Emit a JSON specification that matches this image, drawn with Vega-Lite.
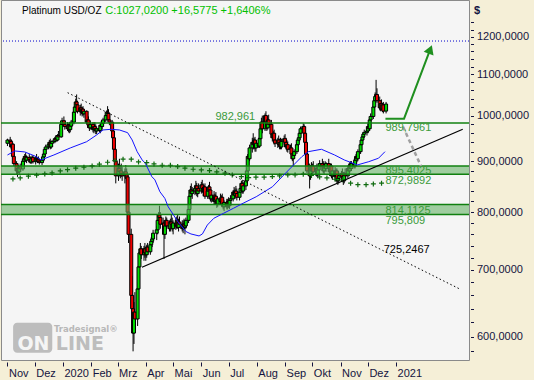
{
"$schema": "https://vega.github.io/schema/vega-lite/v6.json",
"width": 468, "height": 360,
"autosize": {"type": "none"},
"padding": {"left": 1, "top": 0, "right": 65, "bottom": 20},
"background": "#f5efd7",
"config": {
 "view": {"fill": "#f5f5f5", "stroke": "#8a8a8a", "strokeWidth": 1},
 "font": "Liberation Sans",
 "axis": {"labelFont": "Liberation Sans", "labelFontSize": 11, "labelColor": "#141440", "tickColor": "#141440", "domain": false, "grid": false}
},
"datasets": {
"candles": [
{"d":"2019-11-01","o":938,"h":948,"l":932,"c":945},
{"d":"2019-11-04","o":945,"h":952,"l":938,"c":942},
{"d":"2019-11-05","o":942,"h":946,"l":925,"c":930},
{"d":"2019-11-06","o":930,"h":940,"l":925,"c":936},
{"d":"2019-11-07","o":936,"h":938,"l":905,"c":910},
{"d":"2019-11-08","o":910,"h":915,"l":890,"c":895},
{"d":"2019-11-11","o":895,"h":900,"l":872,"c":880},
{"d":"2019-11-12","o":880,"h":890,"l":868,"c":885},
{"d":"2019-11-13","o":885,"h":892,"l":875,"c":878},
{"d":"2019-11-14","o":878,"h":890,"l":872,"c":888},
{"d":"2019-11-15","o":888,"h":895,"l":880,"c":884},
{"d":"2019-11-18","o":884,"h":905,"l":880,"c":900},
{"d":"2019-11-19","o":900,"h":910,"l":895,"c":905},
{"d":"2019-11-20","o":905,"h":915,"l":900,"c":910},
{"d":"2019-11-21","o":910,"h":918,"l":898,"c":902},
{"d":"2019-11-22","o":902,"h":912,"l":896,"c":908},
{"d":"2019-11-25","o":908,"h":915,"l":898,"c":903},
{"d":"2019-11-26","o":903,"h":910,"l":895,"c":898},
{"d":"2019-11-27","o":898,"h":908,"l":894,"c":905},
{"d":"2019-11-28","o":905,"h":912,"l":900,"c":908},
{"d":"2019-11-29","o":908,"h":912,"l":895,"c":899},
{"d":"2019-12-02","o":899,"h":910,"l":893,"c":906},
{"d":"2019-12-03","o":906,"h":915,"l":900,"c":902},
{"d":"2019-12-04","o":902,"h":908,"l":896,"c":904},
{"d":"2019-12-05","o":904,"h":910,"l":898,"c":900},
{"d":"2019-12-06","o":900,"h":905,"l":893,"c":897},
{"d":"2019-12-09","o":897,"h":905,"l":892,"c":902},
{"d":"2019-12-10","o":902,"h":912,"l":898,"c":909},
{"d":"2019-12-11","o":909,"h":918,"l":905,"c":915},
{"d":"2019-12-12","o":915,"h":928,"l":910,"c":925},
{"d":"2019-12-13","o":925,"h":935,"l":918,"c":930},
{"d":"2019-12-16","o":930,"h":940,"l":925,"c":935},
{"d":"2019-12-17","o":935,"h":945,"l":930,"c":940},
{"d":"2019-12-18","o":940,"h":948,"l":925,"c":930},
{"d":"2019-12-19","o":930,"h":942,"l":926,"c":938},
{"d":"2019-12-20","o":938,"h":945,"l":932,"c":942},
{"d":"2019-12-23","o":942,"h":952,"l":938,"c":948},
{"d":"2019-12-24","o":948,"h":955,"l":940,"c":945},
{"d":"2019-12-26","o":945,"h":958,"l":942,"c":955},
{"d":"2019-12-27","o":955,"h":965,"l":948,"c":952},
{"d":"2019-12-30","o":952,"h":985,"l":950,"c":980},
{"d":"2019-12-31","o":980,"h":995,"l":975,"c":988},
{"d":"2020-01-02","o":988,"h":998,"l":975,"c":980},
{"d":"2020-01-03","o":980,"h":990,"l":968,"c":975},
{"d":"2020-01-06","o":975,"h":985,"l":965,"c":970},
{"d":"2020-01-07","o":970,"h":982,"l":962,"c":978},
{"d":"2020-01-08","o":978,"h":985,"l":960,"c":968},
{"d":"2020-01-09","o":968,"h":980,"l":962,"c":976},
{"d":"2020-01-10","o":976,"h":990,"l":970,"c":985},
{"d":"2020-01-13","o":985,"h":1012,"l":980,"c":1008},
{"d":"2020-01-14","o":1008,"h":1025,"l":1002,"c":1020},
{"d":"2020-01-15","o":1020,"h":1040,"l":1015,"c":1032},
{"d":"2020-01-16","o":1032,"h":1050,"l":1018,"c":1025},
{"d":"2020-01-17","o":1025,"h":1035,"l":1005,"c":1010},
{"d":"2020-01-20","o":1010,"h":1025,"l":1000,"c":1018},
{"d":"2020-01-21","o":1018,"h":1028,"l":1005,"c":1008},
{"d":"2020-01-22","o":1008,"h":1020,"l":998,"c":1015},
{"d":"2020-01-23","o":1015,"h":1022,"l":1000,"c":1004},
{"d":"2020-01-24","o":1004,"h":1015,"l":995,"c":1010},
{"d":"2020-01-27","o":1010,"h":1012,"l":980,"c":985},
{"d":"2020-01-28","o":985,"h":995,"l":972,"c":990},
{"d":"2020-01-29","o":990,"h":998,"l":975,"c":978},
{"d":"2020-01-30","o":978,"h":985,"l":965,"c":972},
{"d":"2020-01-31","o":972,"h":988,"l":968,"c":980},
{"d":"2020-02-03","o":980,"h":985,"l":962,"c":968},
{"d":"2020-02-04","o":968,"h":980,"l":960,"c":975},
{"d":"2020-02-05","o":975,"h":985,"l":965,"c":970},
{"d":"2020-02-06","o":970,"h":980,"l":958,"c":965},
{"d":"2020-02-07","o":965,"h":975,"l":958,"c":970},
{"d":"2020-02-10","o":970,"h":978,"l":962,"c":966},
{"d":"2020-02-11","o":966,"h":982,"l":960,"c":978},
{"d":"2020-02-12","o":978,"h":988,"l":970,"c":975},
{"d":"2020-02-13","o":975,"h":985,"l":968,"c":982},
{"d":"2020-02-14","o":982,"h":995,"l":975,"c":990},
{"d":"2020-02-17","o":990,"h":1005,"l":985,"c":1000},
{"d":"2020-02-18","o":1000,"h":1012,"l":992,"c":1008},
{"d":"2020-02-19","o":1008,"h":1022,"l":1000,"c":1005},
{"d":"2020-02-20","o":1005,"h":1015,"l":985,"c":990},
{"d":"2020-02-21","o":990,"h":1002,"l":978,"c":985},
{"d":"2020-02-24","o":985,"h":990,"l":960,"c":965},
{"d":"2020-02-25","o":965,"h":975,"l":945,"c":950},
{"d":"2020-02-26","o":950,"h":958,"l":920,"c":925},
{"d":"2020-02-27","o":925,"h":935,"l":895,"c":900},
{"d":"2020-02-28","o":900,"h":905,"l":855,"c":870},
{"d":"2020-03-02","o":870,"h":895,"l":860,"c":885},
{"d":"2020-03-03","o":885,"h":905,"l":870,"c":878},
{"d":"2020-03-04","o":878,"h":892,"l":865,"c":880},
{"d":"2020-03-05","o":880,"h":895,"l":868,"c":875},
{"d":"2020-03-06","o":875,"h":888,"l":860,"c":870},
{"d":"2020-03-09","o":870,"h":885,"l":855,"c":878},
{"d":"2020-03-10","o":878,"h":892,"l":865,"c":872},
{"d":"2020-03-11","o":872,"h":885,"l":860,"c":865},
{"d":"2020-03-12","o":868,"h":872,"l":795,"c":800},
{"d":"2020-03-13","o":800,"h":820,"l":745,"c":760},
{"d":"2020-03-16","o":760,"h":770,"l":640,"c":660},
{"d":"2020-03-17","o":660,"h":690,"l":620,"c":640},
{"d":"2020-03-18","o":640,"h":660,"l":580,"c":605},
{"d":"2020-03-19","o":605,"h":650,"l":590,"c":635},
{"d":"2020-03-20","o":635,"h":665,"l":610,"c":625},
{"d":"2020-03-23","o":625,"h":680,"l":615,"c":670},
{"d":"2020-03-24","o":670,"h":715,"l":660,"c":705},
{"d":"2020-03-25","o":705,"h":735,"l":695,"c":728},
{"d":"2020-03-26","o":728,"h":745,"l":715,"c":735},
{"d":"2020-03-27","o":735,"h":740,"l":718,"c":725},
{"d":"2020-03-30","o":725,"h":740,"l":715,"c":735},
{"d":"2020-03-31","o":735,"h":745,"l":720,"c":728},
{"d":"2020-04-01","o":728,"h":738,"l":715,"c":725},
{"d":"2020-04-02","o":725,"h":742,"l":720,"c":738},
{"d":"2020-04-03","o":738,"h":745,"l":725,"c":730},
{"d":"2020-04-06","o":730,"h":748,"l":725,"c":742},
{"d":"2020-04-07","o":742,"h":755,"l":735,"c":748},
{"d":"2020-04-08","o":748,"h":760,"l":738,"c":752},
{"d":"2020-04-09","o":752,"h":768,"l":745,"c":762},
{"d":"2020-04-13","o":762,"h":775,"l":750,"c":768},
{"d":"2020-04-14","o":768,"h":790,"l":760,"c":785},
{"d":"2020-04-15","o":785,"h":800,"l":775,"c":795},
{"d":"2020-04-16","o":795,"h":812,"l":785,"c":790},
{"d":"2020-04-17","o":790,"h":800,"l":770,"c":778},
{"d":"2020-04-20","o":778,"h":790,"l":765,"c":780},
{"d":"2020-04-21","o":780,"h":785,"l":718,"c":760},
{"d":"2020-04-22","o":760,"h":780,"l":752,"c":775},
{"d":"2020-04-23","o":775,"h":792,"l":768,"c":785},
{"d":"2020-04-24","o":785,"h":790,"l":770,"c":775},
{"d":"2020-04-27","o":775,"h":785,"l":765,"c":770},
{"d":"2020-04-28","o":770,"h":788,"l":765,"c":782},
{"d":"2020-04-29","o":782,"h":795,"l":775,"c":778},
{"d":"2020-04-30","o":778,"h":790,"l":765,"c":770},
{"d":"2020-05-01","o":770,"h":785,"l":760,"c":780},
{"d":"2020-05-04","o":780,"h":790,"l":768,"c":775},
{"d":"2020-05-05","o":775,"h":792,"l":770,"c":785},
{"d":"2020-05-06","o":785,"h":795,"l":770,"c":772},
{"d":"2020-05-07","o":772,"h":788,"l":765,"c":782},
{"d":"2020-05-08","o":782,"h":792,"l":772,"c":778},
{"d":"2020-05-11","o":778,"h":785,"l":765,"c":770},
{"d":"2020-05-12","o":770,"h":785,"l":762,"c":778},
{"d":"2020-05-13","o":778,"h":788,"l":768,"c":772},
{"d":"2020-05-14","o":772,"h":782,"l":760,"c":775},
{"d":"2020-05-15","o":775,"h":790,"l":770,"c":785},
{"d":"2020-05-18","o":785,"h":812,"l":780,"c":805},
{"d":"2020-05-19","o":805,"h":835,"l":800,"c":830},
{"d":"2020-05-20","o":830,"h":850,"l":822,"c":842},
{"d":"2020-05-21","o":842,"h":855,"l":830,"c":835},
{"d":"2020-05-22","o":835,"h":848,"l":825,"c":840},
{"d":"2020-05-25","o":840,"h":852,"l":832,"c":845},
{"d":"2020-05-26","o":845,"h":860,"l":838,"c":850},
{"d":"2020-05-27","o":850,"h":856,"l":830,"c":835},
{"d":"2020-05-28","o":835,"h":850,"l":828,"c":845},
{"d":"2020-05-29","o":845,"h":855,"l":835,"c":840},
{"d":"2020-06-01","o":840,"h":858,"l":835,"c":852},
{"d":"2020-06-02","o":852,"h":862,"l":840,"c":845},
{"d":"2020-06-03","o":845,"h":855,"l":830,"c":838},
{"d":"2020-06-04","o":838,"h":852,"l":832,"c":848},
{"d":"2020-06-05","o":848,"h":855,"l":825,"c":830},
{"d":"2020-06-08","o":830,"h":845,"l":825,"c":840},
{"d":"2020-06-09","o":840,"h":852,"l":835,"c":848},
{"d":"2020-06-10","o":848,"h":858,"l":838,"c":842},
{"d":"2020-06-11","o":842,"h":848,"l":820,"c":825},
{"d":"2020-06-12","o":825,"h":838,"l":818,"c":832},
{"d":"2020-06-15","o":832,"h":840,"l":815,"c":820},
{"d":"2020-06-16","o":820,"h":835,"l":815,"c":830},
{"d":"2020-06-17","o":830,"h":838,"l":818,"c":822},
{"d":"2020-06-18","o":822,"h":830,"l":808,"c":815},
{"d":"2020-06-19","o":815,"h":828,"l":810,"c":825},
{"d":"2020-06-22","o":825,"h":835,"l":815,"c":820},
{"d":"2020-06-23","o":820,"h":832,"l":812,"c":828},
{"d":"2020-06-24","o":828,"h":835,"l":810,"c":815},
{"d":"2020-06-25","o":815,"h":825,"l":805,"c":810},
{"d":"2020-06-26","o":810,"h":822,"l":802,"c":818},
{"d":"2020-06-29","o":818,"h":825,"l":805,"c":810},
{"d":"2020-06-30","o":810,"h":825,"l":805,"c":820},
{"d":"2020-07-01","o":820,"h":828,"l":808,"c":812},
{"d":"2020-07-02","o":812,"h":825,"l":806,"c":822},
{"d":"2020-07-03","o":822,"h":832,"l":815,"c":825},
{"d":"2020-07-06","o":825,"h":842,"l":820,"c":838},
{"d":"2020-07-07","o":838,"h":848,"l":828,"c":832},
{"d":"2020-07-08","o":832,"h":845,"l":825,"c":840},
{"d":"2020-07-09","o":840,"h":850,"l":830,"c":835},
{"d":"2020-07-10","o":835,"h":845,"l":822,"c":828},
{"d":"2020-07-13","o":828,"h":842,"l":822,"c":838},
{"d":"2020-07-14","o":838,"h":852,"l":830,"c":845},
{"d":"2020-07-15","o":845,"h":860,"l":838,"c":855},
{"d":"2020-07-16","o":855,"h":862,"l":835,"c":840},
{"d":"2020-07-17","o":840,"h":858,"l":835,"c":850},
{"d":"2020-07-20","o":850,"h":865,"l":842,"c":860},
{"d":"2020-07-21","o":860,"h":885,"l":855,"c":880},
{"d":"2020-07-22","o":880,"h":915,"l":872,"c":910},
{"d":"2020-07-23","o":910,"h":925,"l":895,"c":905},
{"d":"2020-07-24","o":905,"h":935,"l":900,"c":928},
{"d":"2020-07-27","o":928,"h":950,"l":918,"c":940},
{"d":"2020-07-28","o":940,"h":960,"l":925,"c":935},
{"d":"2020-07-29","o":935,"h":950,"l":925,"c":945},
{"d":"2020-07-30","o":945,"h":952,"l":920,"c":928},
{"d":"2020-07-31","o":928,"h":945,"l":920,"c":938},
{"d":"2020-08-03","o":938,"h":950,"l":928,"c":932},
{"d":"2020-08-04","o":932,"h":955,"l":928,"c":948},
{"d":"2020-08-05","o":948,"h":975,"l":940,"c":970},
{"d":"2020-08-06","o":970,"h":995,"l":962,"c":985},
{"d":"2020-08-07","o":985,"h":1000,"l":960,"c":970},
{"d":"2020-08-10","o":970,"h":1005,"l":965,"c":1000},
{"d":"2020-08-11","o":1000,"h":1010,"l":975,"c":985},
{"d":"2020-08-12","o":985,"h":998,"l":965,"c":972},
{"d":"2020-08-13","o":972,"h":995,"l":968,"c":990},
{"d":"2020-08-14","o":990,"h":1002,"l":975,"c":980},
{"d":"2020-08-17","o":980,"h":990,"l":950,"c":958},
{"d":"2020-08-18","o":958,"h":968,"l":942,"c":950},
{"d":"2020-08-19","o":950,"h":965,"l":940,"c":960},
{"d":"2020-08-20","o":960,"h":968,"l":935,"c":945},
{"d":"2020-08-21","o":945,"h":955,"l":930,"c":938},
{"d":"2020-08-24","o":938,"h":950,"l":928,"c":945},
{"d":"2020-08-25","o":945,"h":955,"l":930,"c":935},
{"d":"2020-08-26","o":935,"h":948,"l":925,"c":940},
{"d":"2020-08-27","o":940,"h":950,"l":925,"c":930},
{"d":"2020-08-28","o":930,"h":948,"l":925,"c":942},
{"d":"2020-08-31","o":942,"h":955,"l":935,"c":948},
{"d":"2020-09-01","o":948,"h":958,"l":935,"c":940},
{"d":"2020-09-02","o":940,"h":950,"l":925,"c":930},
{"d":"2020-09-03","o":930,"h":945,"l":920,"c":935},
{"d":"2020-09-04","o":935,"h":942,"l":918,"c":925},
{"d":"2020-09-07","o":925,"h":935,"l":915,"c":928},
{"d":"2020-09-08","o":928,"h":938,"l":910,"c":915},
{"d":"2020-09-09","o":915,"h":925,"l":900,"c":905},
{"d":"2020-09-10","o":905,"h":918,"l":890,"c":912},
{"d":"2020-09-11","o":912,"h":925,"l":905,"c":920},
{"d":"2020-09-14","o":920,"h":940,"l":915,"c":935},
{"d":"2020-09-15","o":935,"h":950,"l":930,"c":945},
{"d":"2020-09-16","o":945,"h":958,"l":938,"c":950},
{"d":"2020-09-17","o":950,"h":965,"l":942,"c":960},
{"d":"2020-09-18","o":960,"h":975,"l":955,"c":970},
{"d":"2020-09-21","o":970,"h":982,"l":960,"c":975},
{"d":"2020-09-22","o":975,"h":980,"l":955,"c":960},
{"d":"2020-09-23","o":960,"h":968,"l":935,"c":940},
{"d":"2020-09-24","o":940,"h":948,"l":910,"c":915},
{"d":"2020-09-25","o":915,"h":922,"l":875,"c":880},
{"d":"2020-09-28","o":880,"h":895,"l":845,"c":870},
{"d":"2020-09-29","o":870,"h":892,"l":862,"c":888},
{"d":"2020-09-30","o":888,"h":898,"l":875,"c":880},
{"d":"2020-10-01","o":880,"h":895,"l":872,"c":890},
{"d":"2020-10-02","o":890,"h":900,"l":875,"c":878},
{"d":"2020-10-05","o":878,"h":892,"l":870,"c":885},
{"d":"2020-10-06","o":885,"h":895,"l":868,"c":872},
{"d":"2020-10-07","o":872,"h":888,"l":865,"c":882},
{"d":"2020-10-08","o":882,"h":895,"l":875,"c":890},
{"d":"2020-10-09","o":890,"h":902,"l":880,"c":895},
{"d":"2020-10-12","o":895,"h":905,"l":885,"c":890},
{"d":"2020-10-13","o":890,"h":900,"l":875,"c":880},
{"d":"2020-10-14","o":880,"h":895,"l":872,"c":892},
{"d":"2020-10-15","o":892,"h":900,"l":880,"c":885},
{"d":"2020-10-16","o":885,"h":898,"l":878,"c":895},
{"d":"2020-10-19","o":895,"h":905,"l":880,"c":885},
{"d":"2020-10-20","o":885,"h":895,"l":870,"c":878},
{"d":"2020-10-21","o":878,"h":895,"l":870,"c":890},
{"d":"2020-10-22","o":890,"h":895,"l":865,"c":870},
{"d":"2020-10-23","o":870,"h":885,"l":862,"c":880},
{"d":"2020-10-26","o":880,"h":888,"l":860,"c":868},
{"d":"2020-10-27","o":868,"h":885,"l":862,"c":880},
{"d":"2020-10-28","o":880,"h":885,"l":855,"c":860},
{"d":"2020-10-29","o":860,"h":872,"l":852,"c":865},
{"d":"2020-10-30","o":865,"h":878,"l":855,"c":870},
{"d":"2020-11-02","o":870,"h":880,"l":858,"c":875},
{"d":"2020-11-03","o":875,"h":885,"l":862,"c":868},
{"d":"2020-11-04","o":868,"h":878,"l":852,"c":860},
{"d":"2020-11-05","o":860,"h":878,"l":855,"c":875},
{"d":"2020-11-06","o":875,"h":885,"l":865,"c":870},
{"d":"2020-11-09","o":870,"h":890,"l":865,"c":885},
{"d":"2020-11-10","o":885,"h":895,"l":875,"c":880},
{"d":"2020-11-11","o":880,"h":898,"l":875,"c":892},
{"d":"2020-11-12","o":892,"h":900,"l":880,"c":885},
{"d":"2020-11-13","o":885,"h":900,"l":880,"c":895},
{"d":"2020-11-16","o":895,"h":905,"l":885,"c":890},
{"d":"2020-11-17","o":890,"h":908,"l":885,"c":902},
{"d":"2020-11-18","o":902,"h":915,"l":895,"c":910},
{"d":"2020-11-19","o":910,"h":918,"l":898,"c":905},
{"d":"2020-11-20","o":905,"h":925,"l":900,"c":920},
{"d":"2020-11-23","o":920,"h":942,"l":915,"c":935},
{"d":"2020-11-24","o":935,"h":950,"l":928,"c":945},
{"d":"2020-11-25","o":945,"h":958,"l":938,"c":952},
{"d":"2020-11-26","o":952,"h":962,"l":945,"c":958},
{"d":"2020-11-27","o":958,"h":968,"l":950,"c":962},
{"d":"2020-11-30","o":962,"h":972,"l":955,"c":965},
{"d":"2020-12-01","o":965,"h":982,"l":960,"c":975},
{"d":"2020-12-02","o":975,"h":985,"l":965,"c":970},
{"d":"2020-12-03","o":970,"h":995,"l":965,"c":990},
{"d":"2020-12-04","o":990,"h":1005,"l":980,"c":998},
{"d":"2020-12-07","o":998,"h":1025,"l":992,"c":1020},
{"d":"2020-12-08","o":1020,"h":1042,"l":1012,"c":1035},
{"d":"2020-12-09","o":1035,"h":1055,"l":1028,"c":1045},
{"d":"2020-12-10","o":1045,"h":1086,"l":1035,"c":1050},
{"d":"2020-12-11","o":1050,"h":1065,"l":1030,"c":1035},
{"d":"2020-12-14","o":1035,"h":1045,"l":1012,"c":1018},
{"d":"2020-12-15","o":1018,"h":1035,"l":1010,"c":1028},
{"d":"2020-12-16","o":1028,"h":1038,"l":1012,"c":1015},
{"d":"2020-12-17","o":1015,"h":1030,"l":1008,"c":1025},
{"d":"2020-12-18","o":1025,"h":1032,"l":1005,"c":1010.44},
{"d":"2020-12-21","o":1010.44,"h":1032,"l":1005,"c":1027.02}
]
},
"layer": [
{
 "encoding": {
  "x": {"field": "d", "type": "temporal",
   "scale": {"type": "utc", "domain": [{"year":2019,"month":10,"date":30,"hours":9,"minutes":17,"utc":true},{"year":2021,"month":3,"date":16,"hours":14,"minutes":24,"utc":true}]},
   "axis": {"title": null, "orient": "bottom", "offset": 2, "tickSize": 4, "labelAlign": "left", "labelBaseline": "top", "labelPadding": 1, "labelOffset": 1, "labelFlush": false, "labelOverlap": false,
    "values": [{"year":2019,"month":11,"date":1,"utc":true},{"year":2019,"month":12,"date":1,"utc":true},{"year":2020,"month":1,"date":1,"utc":true},{"year":2020,"month":2,"date":1,"utc":true},{"year":2020,"month":3,"date":1,"utc":true},{"year":2020,"month":4,"date":1,"utc":true},{"year":2020,"month":5,"date":1,"utc":true},{"year":2020,"month":6,"date":1,"utc":true},{"year":2020,"month":7,"date":1,"utc":true},{"year":2020,"month":8,"date":1,"utc":true},{"year":2020,"month":9,"date":1,"utc":true},{"year":2020,"month":10,"date":1,"utc":true},{"year":2020,"month":11,"date":1,"utc":true},{"year":2020,"month":12,"date":1,"utc":true},{"year":2021,"month":1,"date":1,"utc":true}],
    "labelExpr": "utcmonth(datum.value) == 0 ? utcFormat(datum.value, '%Y') : ['Jan','Feb','Mrz','Apr','Mai','Jun','Jul','Aug','Sep','Okt','Nov','Dez'][utcmonth(datum.value)]"}},
  "y": {"field": "v", "type": "quantitative",
   "scale": {"type": "log", "domain": [568.5, 1306.1], "nice": false, "zero": false},
   "axis": {"orient": "right", "title": "$", "titleAngle": 0, "titleX": 3, "titleY": 10, "titleAlign": "left", "titleBaseline": "middle", "titleFont": "Liberation Sans", "titleFontSize": 11, "titleFontWeight": "bold", "titleColor": "#141440", "offset": 1.5, "tickSize": 3, "labelPadding": 3,
    "values": [580,600,620,640,660,680,700,720,740,760,780,800,820,840,860,880,900,920,940,960,980,1000,1020,1040,1060,1080,1100,1120,1140,1160,1180,1200,1220,1240],
    "labelExpr": "datum.value % 100 == 0 ? replace(format(datum.value, '.4f'), '.', ',') : ''"}}
 },
 "layer": [
  {
   "data": {"values": [{"d":"2019-11-07T05:00:00Z","d2":"2019-12-20T05:00:00Z","v":619.6,"v2":578.2}]},
   "mark": {"type": "rect", "cornerRadius": 4, "color": "#bdbdbd"},
   "encoding": {"x2": {"field": "d2"}, "y2": {"field": "v2"}}
  },
  {
   "data": {"values": [{"d":"2019-11-29T12:00:00Z","v":581.8,"t":"ON"}]},
   "mark": {"type": "text", "font": "DejaVu Sans", "fontSize": 19, "fontWeight": "bold", "color": "#f5f5f5", "align": "center", "baseline": "alphabetic"},
   "encoding": {"text": {"field": "t"}}
  },
  {
   "data": {"values": [{"d":"2020-01-19T14:00:00Z","v":581.8,"t":"LINE"}]},
   "mark": {"type": "text", "font": "DejaVu Sans", "fontSize": 19, "fontWeight": "bold", "color": "#bdbdbd", "align": "center", "baseline": "alphabetic"},
   "encoding": {"text": {"field": "t"}}
  },
  {
   "data": {"values": [{"d":"2019-12-22","v":606.5,"t":"Tradesignal®"}]},
   "mark": {"type": "text", "font": "DejaVu Sans", "fontSize": 8.5, "fontWeight": "bold", "color": "#b8b8b8", "align": "left", "baseline": "alphabetic"},
   "encoding": {"text": {"field": "t"}}
  },
  {
   "data": {"name": "candles"},
   "mark": {"type": "rule", "color": "#000000", "strokeWidth": 1},
   "encoding": {
    "y": {"field": "l", "type": "quantitative",
     "scale": {"type": "log", "domain": [568.5, 1306.1], "nice": false, "zero": false},
     "axis": {"orient": "right", "title": "$", "titleAngle": 0, "titleX": 3, "titleY": 10, "titleAlign": "left", "titleBaseline": "middle", "titleFont": "Liberation Sans", "titleFontSize": 11, "titleFontWeight": "bold", "titleColor": "#141440", "offset": 1.5, "tickSize": 3, "labelPadding": 3,
      "values": [580,600,620,640,660,680,700,720,740,760,780,800,820,840,860,880,900,920,940,960,980,1000,1020,1040,1060,1080,1100,1120,1140,1160,1180,1200,1220,1240],
      "labelExpr": "datum.value % 100 == 0 ? replace(format(datum.value, '.4f'), '.', ',') : ''"}},
    "y2": {"field": "h"}
   }
  },
  {
   "data": {"name": "candles"},
   "mark": {"type": "bar", "size": 3, "stroke": "#000000", "strokeWidth": 1},
   "encoding": {
    "y": {"field": "o", "type": "quantitative",
     "scale": {"type": "log", "domain": [568.5, 1306.1], "nice": false, "zero": false},
     "axis": {"orient": "right", "title": "$", "titleAngle": 0, "titleX": 3, "titleY": 10, "titleAlign": "left", "titleBaseline": "middle", "titleFont": "Liberation Sans", "titleFontSize": 11, "titleFontWeight": "bold", "titleColor": "#141440", "offset": 1.5, "tickSize": 3, "labelPadding": 3,
      "values": [580,600,620,640,660,680,700,720,740,760,780,800,820,840,860,880,900,920,940,960,980,1000,1020,1040,1060,1080,1100,1120,1140,1160,1180,1200,1220,1240],
      "labelExpr": "datum.value % 100 == 0 ? replace(format(datum.value, '.4f'), '.', ',') : ''"}},
    "y2": {"field": "c"},
    "color": {"condition": {"test": "datum.c >= datum.o", "value": "#00dd00"}, "value": "#ee0000"}
   }
  }
 ]
},
{
 "encoding": {
  "y": {"field": "v", "type": "quantitative",
   "scale": {"type": "log", "domain": [568.5, 1306.1], "nice": false, "zero": false},
   "axis": {"orient": "right", "title": "$", "titleAngle": 0, "titleX": 3, "titleY": 10, "titleAlign": "left", "titleBaseline": "middle", "titleFont": "Liberation Sans", "titleFontSize": 11, "titleFontWeight": "bold", "titleColor": "#141440", "offset": 1.5, "tickSize": 3, "labelPadding": 3,
    "values": [580,600,620,640,660,680,700,720,740,760,780,800,820,840,860,880,900,920,940,960,980,1000,1020,1040,1060,1080,1100,1120,1140,1160,1180,1200,1220,1240],
    "labelExpr": "datum.value % 100 == 0 ? replace(format(datum.value, '.4f'), '.', ',') : ''"}}
 },
 "layer": [
  {
   "data": {"values": [{"v":890.2,"v2":873},{"v":814.11,"v2":795.81}]},
   "mark": {"type": "rect", "color": "#67b267", "opacity": 0.6},
   "encoding": {"y2": {"field": "v2"}}
  },
  {
   "data": {"values": [{"v":983},{"v":890.2},{"v":873},{"v":814.11},{"v":795.81}]},
   "mark": {"type": "rule", "color": "#108010", "strokeWidth": 1.5}
  },
  {
   "data": {"values": [{"v":1188}]},
   "mark": {"type": "rule", "color": "#0000cc", "strokeWidth": 1, "strokeDash": [1, 2]}
  }
 ]
},
{
 "encoding": {
  "x": {"field": "d", "type": "temporal",
   "scale": {"type": "utc", "domain": [{"year":2019,"month":10,"date":30,"hours":9,"minutes":17,"utc":true},{"year":2021,"month":3,"date":16,"hours":14,"minutes":24,"utc":true}]},
   "axis": {"title": null, "orient": "bottom", "offset": 2, "tickSize": 4, "labelAlign": "left", "labelBaseline": "top", "labelPadding": 1, "labelOffset": 1, "labelFlush": false, "labelOverlap": false,
    "values": [{"year":2019,"month":11,"date":1,"utc":true},{"year":2019,"month":12,"date":1,"utc":true},{"year":2020,"month":1,"date":1,"utc":true},{"year":2020,"month":2,"date":1,"utc":true},{"year":2020,"month":3,"date":1,"utc":true},{"year":2020,"month":4,"date":1,"utc":true},{"year":2020,"month":5,"date":1,"utc":true},{"year":2020,"month":6,"date":1,"utc":true},{"year":2020,"month":7,"date":1,"utc":true},{"year":2020,"month":8,"date":1,"utc":true},{"year":2020,"month":9,"date":1,"utc":true},{"year":2020,"month":10,"date":1,"utc":true},{"year":2020,"month":11,"date":1,"utc":true},{"year":2020,"month":12,"date":1,"utc":true},{"year":2021,"month":1,"date":1,"utc":true}],
    "labelExpr": "utcmonth(datum.value) == 0 ? utcFormat(datum.value, '%Y') : ['Jan','Feb','Mrz','Apr','Mai','Jun','Jul','Aug','Sep','Okt','Nov','Dez'][utcmonth(datum.value)]"}},
  "y": {"field": "v", "type": "quantitative",
   "scale": {"type": "log", "domain": [568.5, 1306.1], "nice": false, "zero": false},
   "axis": {"orient": "right", "title": "$", "titleAngle": 0, "titleX": 3, "titleY": 10, "titleAlign": "left", "titleBaseline": "middle", "titleFont": "Liberation Sans", "titleFontSize": 11, "titleFontWeight": "bold", "titleColor": "#141440", "offset": 1.5, "tickSize": 3, "labelPadding": 3,
    "values": [580,600,620,640,660,680,700,720,740,760,780,800,820,840,860,880,900,920,940,960,980,1000,1020,1040,1060,1080,1100,1120,1140,1160,1180,1200,1220,1240],
    "labelExpr": "datum.value % 100 == 0 ? replace(format(datum.value, '.4f'), '.', ',') : ''"}}
 },
 "layer": [
  {
   "data": {"values": [
    {"d":"2019-11-01","v":913},{"d":"2019-11-09","v":921.5},{"d":"2019-11-20","v":919.4},{"d":"2019-12-01","v":910.9},{"d":"2019-12-08","v":902.6},{"d":"2019-12-22","v":913},{"d":"2020-01-09","v":927.9},{"d":"2020-01-27","v":941.4},{"d":"2020-02-07","v":956.2},{"d":"2020-02-14","v":967.3},{"d":"2020-02-23","v":968.8},{"d":"2020-03-03","v":967.3},{"d":"2020-03-12","v":961.3},{"d":"2020-03-17","v":945.2},{"d":"2020-03-22T12:00:00Z","v":920},{"d":"2020-03-28","v":902.6},{"d":"2020-03-31T10:00:00Z","v":895.8},{"d":"2020-04-07T14:00:00Z","v":868.5},{"d":"2020-04-11","v":862},{"d":"2020-04-16T12:00:00Z","v":838.6},{"d":"2020-04-21T22:00:00Z","v":825.9},{"d":"2020-04-25T14:00:00Z","v":810},{"d":"2020-05-06T07:00:00Z","v":782.4},{"d":"2020-05-15T05:00:00Z","v":764.8},{"d":"2020-05-20T14:00:00Z","v":760.7},{"d":"2020-05-29T12:00:00Z","v":757.2},{"d":"2020-06-02T05:00:00Z","v":760.7},{"d":"2020-06-07T14:00:00Z","v":776.5},{"d":"2020-06-14T17:00:00Z","v":788.7},{"d":"2020-06-25T10:00:00Z","v":797.9},{"d":"2020-07-06T05:00:00Z","v":807.1},{"d":"2020-07-16T22:00:00Z","v":816.6},{"d":"2020-07-31T07:00:00Z","v":829},{"d":"2020-08-18T05:00:00Z","v":848.4},{"d":"2020-09-05","v":882},{"d":"2020-09-19T10:00:00Z","v":909.4},{"d":"2020-09-26T14:00:00Z","v":920},{"d":"2020-10-11","v":925.1},{"d":"2020-10-25T10:00:00Z","v":913},{"d":"2020-11-05","v":902.6},{"d":"2020-11-19T10:00:00Z","v":892.2},{"d":"2020-12-02","v":899},{"d":"2020-12-12T17:00:00Z","v":906.2},{"d":"2020-12-19T19:00:00Z","v":920}
   ]},
   "mark": {"type": "line", "color": "#1414ff", "strokeWidth": 1}
  },
  {
   "data": {"values": [
    {"d":"2019-11-07","v":863.8},{"d":"2019-11-15","v":865.8},{"d":"2019-11-24","v":869.3},{"d":"2019-12-03","v":871.3},{"d":"2019-12-12","v":873.9},{"d":"2019-12-20","v":875.9},{"d":"2019-12-29","v":880},{"d":"2020-01-06","v":882.6},{"d":"2020-01-15","v":885.5},{"d":"2020-01-24","v":887.5},{"d":"2020-02-02","v":890.2},{"d":"2020-02-10","v":893.7},{"d":"2020-02-19","v":897.8},{"d":"2020-02-27","v":901.1},{"d":"2020-03-07","v":904.1},{"d":"2020-03-16","v":904.1},{"d":"2020-03-24","v":898.4},{"d":"2020-04-02","v":897},{"d":"2020-04-10","v":894.3},{"d":"2020-04-19","v":891.6},{"d":"2020-04-28","v":891.6},{"d":"2020-05-06","v":888.8},{"d":"2020-05-14","v":885.5},{"d":"2020-05-23","v":883.4},{"d":"2020-06-01","v":882},{"d":"2020-06-10","v":880.6},{"d":"2020-06-18","v":877.9},{"d":"2020-06-27","v":875.3},{"d":"2020-07-05","v":871.9},{"d":"2020-07-15","v":868.5},{"d":"2020-07-23","v":866.5},{"d":"2020-07-31","v":867.3},{"d":"2020-08-09","v":867.3},{"d":"2020-08-18","v":868.5},{"d":"2020-08-26","v":869.9},{"d":"2020-09-04","v":871.9},{"d":"2020-09-12","v":871.9},{"d":"2020-09-21","v":873.3},{"d":"2020-09-30","v":870.9},{"d":"2020-10-09","v":867.9},{"d":"2020-10-17","v":865.8},{"d":"2020-10-26","v":863.2},{"d":"2020-11-03","v":862},{"d":"2020-11-12","v":855.3},{"d":"2020-11-20","v":852.5},{"d":"2020-11-29","v":852.5},{"d":"2020-12-07","v":853.9},{"d":"2020-12-16","v":855.3}
   ]},
   "mark": {"type": "point", "shape": "M-1,0L1,0M0,-1L0,1", "filled": false, "size": 25, "strokeWidth": 1.2, "color": "#0f6a0f", "opacity": 1}
  },
  {
   "data": {"values": [{"d":"2020-01-06T02:00:00Z","v":1054.3},{"d":"2021-03-12T07:00:00Z","v":669.6}]},
   "mark": {"type": "line", "color": "#000000", "strokeWidth": 1, "strokeDash": [1.5, 2.5]}
  },
  {
   "data": {"values": [{"d":"2020-03-27T19:00:00Z","v":704.4},{"d":"2021-03-15T05:00:00Z","v":968.8}]},
   "mark": {"type": "line", "color": "#000000", "strokeWidth": 1.2}
  },
  {
   "data": {"values": [{"d":"2020-12-20T07:00:00Z","v":992.9},{"d":"2021-01-09T17:00:00Z","v":992.9},{"d":"2021-02-07T12:00:00Z","v":1165}]},
   "mark": {"type": "line", "color": "#1f8f1f", "strokeWidth": 2}
  },
  {
   "data": {"values": [{"d":"2021-02-07T12:00:00Z","v":1165}]},
   "mark": {"type": "point", "shape": "triangle-up", "filled": true, "size": 110, "angle": 21, "color": "#1f8f1f", "opacity": 1}
  },
  {
   "data": {"values": [{"d":"2021-01-08T14:00:00Z","v":974.7},{"d":"2021-01-28T07:00:00Z","v":890.2}]},
   "mark": {"type": "line", "color": "#a0a0a0", "strokeWidth": 2.5, "strokeDash": [4, 3]}
  },
  {
   "data": {"values": [
    {"d":"2020-06-16T12:00:00Z","v":990.6,"t":"982,961"},
    {"d":"2020-12-20T07:00:00Z","v":965,"t":"989,7961"},
    {"d":"2020-12-20T07:00:00Z","v":873.8,"t":"895,4025"},
    {"d":"2020-12-20T07:00:00Z","v":853.8,"t":"872,9892"},
    {"d":"2020-12-20T07:00:00Z","v":796.6,"t":"814,1125"},
    {"d":"2020-12-20T07:00:00Z","v":778.4,"t":"795,809"}
   ]},
   "mark": {"type": "text", "font": "Liberation Sans", "fontSize": 11, "color": "#3a9a3a", "align": "left", "baseline": "alphabetic"},
   "encoding": {"text": {"field": "t"}}
  },
  {
   "data": {"values": [{"d":"2020-12-18T10:00:00Z","v":728.1,"t":"725,2467"}]},
   "mark": {"type": "text", "font": "Liberation Sans", "fontSize": 11, "color": "#000000", "align": "left", "baseline": "alphabetic"},
   "encoding": {"text": {"field": "t"}}
  },
  {
   "data": {"values": [{"d":"2019-11-17","v":1264.5,"t":"Platinum USD/OZ"}]},
   "mark": {"type": "text", "font": "Liberation Sans", "fontSize": 10, "color": "#000000", "align": "left", "baseline": "alphabetic"},
   "encoding": {"text": {"field": "t"}}
  },
  {
   "data": {"values": [{"d":"2020-02-16T12:00:00Z","v":1264.5,"t":"C:1027,0200 +16,5775 +1,6406%"}]},
   "mark": {"type": "text", "font": "Liberation Sans", "fontSize": 11, "color": "#00c000", "align": "left", "baseline": "alphabetic"},
   "encoding": {"text": {"field": "t"}}
  }
 ]
}
]
}
